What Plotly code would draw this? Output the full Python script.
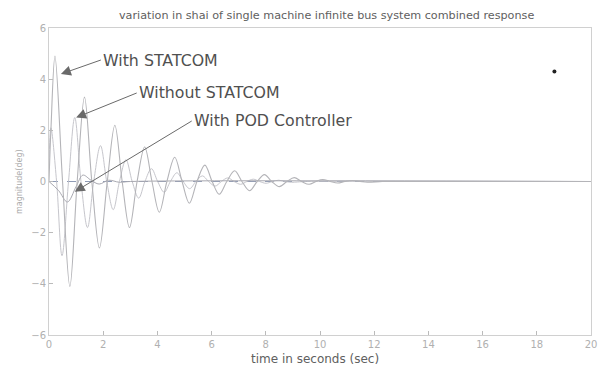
import plotly.graph_objects as go

# ---- data ----
t_main = [0, 0.07, 0.22, 0.5, 0.77, 1.04, 1.31, 1.58, 1.86, 2.15, 2.43, 2.7, 2.97, 3.25, 3.53, 3.8,
          4.07, 4.35, 4.64, 4.91, 5.18, 5.46, 5.75, 6.02, 6.28, 6.56, 6.85, 7.12, 7.4, 7.68, 7.95,
          8.22, 8.5, 8.78, 9.05, 9.32, 9.6, 9.85, 10.1, 10.38, 10.65, 10.92, 11.2, 11.48, 11.75,
          12.3, 13.0, 20]
y_main = [0, 2.0, 4.9, 0, -4.1, 0, 3.3, 0, -2.6, 0, 2.2, 0, -1.8, 0, 1.35, 0,
          -1.2, 0, 0.95, 0, -0.85, 0, 0.64, 0, -0.5, 0, 0.42, 0, -0.36, 0, 0.27,
          0, -0.2, 0, 0.15, 0, -0.11, 0, 0.08, 0, -0.06, 0, 0.04, 0, -0.03,
          0, 0, 0]

t_fast = [0, 0.07, 0.28, 0.48, 0.72, 0.95, 1.18, 1.42, 1.65, 1.9, 2.13, 2.37, 2.6, 2.84, 3.07,
          3.31, 3.54, 3.78, 4.01, 4.25, 4.48, 4.72, 4.95, 5.19, 5.42, 5.66, 5.89, 6.13, 6.36,
          6.6, 6.83, 7.07, 7.3, 7.54, 7.77, 8.01, 8.24, 8.48, 8.71, 8.95, 9.5, 20]
y_fast = [0.6, 2.1, 0, -2.9, 0, 2.5, 0, -1.8, 0, 1.4, 0, -1.1, 0, 0.85, 0,
          -0.65, 0, 0.5, 0, -0.42, 0, 0.34, 0, -0.28, 0, 0.22, 0, -0.18, 0,
          0.14, 0, -0.11, 0, 0.09, 0, -0.07, 0, 0.05, 0, -0.03, 0, 0]

t_pod = [0, 0.35, 0.68, 1.0, 1.25, 1.55, 1.85, 2.2, 2.6, 3.0, 20]
y_pod = [0, -0.35, -0.8, -0.2, 0.25, 0.05, -0.1, 0.05, -0.03, 0, 0]

t_ref = [0, 20]
y_ref = [0, 0]

speck_t = [18.65]
speck_y = [4.3]

x_ticks = [0, 2, 4, 6, 8, 10, 12, 14, 16, 18, 20]
y_ticks = [-6, -4, -2, 0, 2, 4, 6]

FONT = "DejaVu Sans, Verdana, sans-serif"

fig = go.Figure()
fig.add_trace(go.Scatter(x=t_ref, y=y_ref, mode="lines",
                         line=dict(color="#8f9bb5", width=1, dash="dash"), showlegend=False))
fig.add_trace(go.Scatter(x=t_fast, y=y_fast, mode="lines", line_shape="spline",
                         line=dict(color="#c6c6cc", width=1), name="Without STATCOM", showlegend=False))
fig.add_trace(go.Scatter(x=t_pod, y=y_pod, mode="lines", line_shape="spline",
                         line=dict(color="#a8a8b0", width=1), name="With POD Controller", showlegend=False))
fig.add_trace(go.Scatter(x=t_main, y=y_main, mode="lines", line_shape="spline",
                         line=dict(color="#b4b4b8", width=1.1), name="With STATCOM", showlegend=False))
fig.add_trace(go.Scatter(x=speck_t, y=speck_y, mode="markers",
                         marker=dict(color="#222", size=4), showlegend=False))

txt = dict(family=FONT, size=15.8, color="#505050")
ann = [
    dict(x=0.44, y=4.2, ax=101, ay=60, text="With STATCOM"),
    dict(x=1.0, y=2.5, ax=137, ay=93, text="Without STATCOM"),
    dict(x=0.95, y=-0.4, ax=192, ay=121, text="With POD Controller"),
]
# tails given in pixels -> offsets relative to the head
L, T, W, H = 49, 28, 548, 307
def px(tx, vy):
    return L + tx / 20 * W, T + (6 - vy) / 12 * H
annotations = []
for a in ann:
    hx, hy = px(a["x"], a["y"])
    annotations.append(dict(x=a["x"], y=a["y"], xref="x", yref="y", text=a["text"],
                            showarrow=True, ax=a["ax"] - hx, ay=a["ay"] - hy,
                            arrowhead=2, arrowsize=2, arrowwidth=1, arrowcolor="#6a6a6a",
                            xanchor="left", yanchor="middle", font=txt))
annotations.append(dict(x=0.5, y=1, xref="paper", yref="paper", yshift=4, xshift=6,
                        text="variation in shai of single machine infinite bus system combined response",
                        showarrow=False, yanchor="bottom",
                        font=dict(family=FONT, size=11.2, color="#606060")))
annotations.append(dict(x=0.5, y=0, xref="paper", yref="paper", yshift=-24, xshift=-5,
                        text="time in seconds (sec)", showarrow=False, yanchor="middle",
                        font=dict(family=FONT, size=12, color="#606060")))
annotations.append(dict(x=0, y=0.5, xref="paper", yref="paper", xshift=-36,
                        text="magnitude(deg)", showarrow=False, textangle=-90,
                        font=dict(family=FONT, size=8, color="#aaa")))

axis_common = dict(showgrid=False, zeroline=False, showline=True, linecolor="#d0d0d0",
                   linewidth=1, mirror=True, ticks="inside", ticklen=4, tickcolor="#bbb",
                   tickfont=dict(family=FONT, size=10, color="#b0b0b0"))
fig.update_layout(
    width=609, height=368, paper_bgcolor="white", plot_bgcolor="white",
    margin=dict(l=49, r=12, t=28, b=33),
    xaxis=dict(range=[0, 20], tickvals=x_ticks, **axis_common),
    yaxis=dict(range=[-6, 6], tickvals=y_ticks, **axis_common),
    annotations=annotations,
)
fig.write_html("out.html")
